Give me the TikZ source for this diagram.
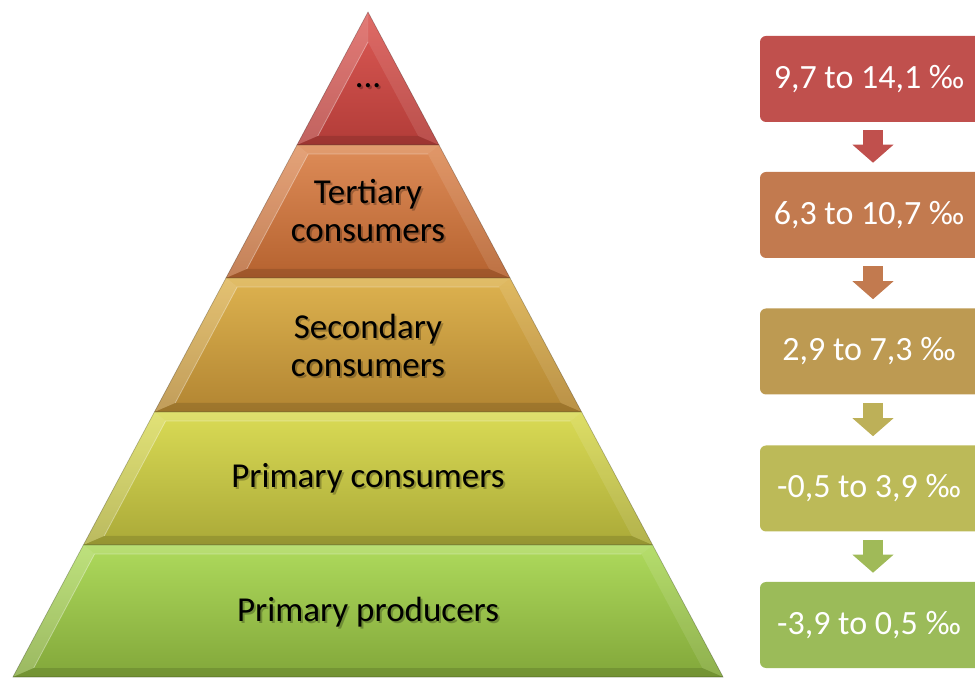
\documentclass[tikz,border=0pt]{standalone}
\usepackage{fontspec}
\setmainfont{Carlito}
\usetikzlibrary{arrows.meta}
\definecolor{rA}{HTML}{DC5A55}\definecolor{rB}{HTML}{B23C38}
\definecolor{oA}{HTML}{DE8C58}\definecolor{oB}{HTML}{B5622F}
\definecolor{gA}{HTML}{DDB24F}\definecolor{gB}{HTML}{B28532}
\definecolor{yA}{HTML}{DADB55}\definecolor{yB}{HTML}{AAA938}
\definecolor{lA}{HTML}{AEDA5C}\definecolor{lB}{HTML}{82A73A}
\definecolor{bx1}{HTML}{C0504D}
\definecolor{bx2}{HTML}{C27A4F}
\definecolor{bx3}{HTML}{BD9A52}
\definecolor{bx4}{HTML}{BCBA58}
\definecolor{bx5}{HTML}{9BBB59}
\definecolor{ar3}{HTML}{BDB058}
\definecolor{ar4}{HTML}{A0BA58}
\newcommand\pyrlevel[4]{%
  \pgfmathsetmacro\kk{0.534}%
  \pgfmathsetmacro\ota{\kk*(#1-12)}%
  \pgfmathsetmacro\oba{\kk*(#2-12)}%
  \pgfmathsetmacro\ity{max(#1+9,42)}%
  \pgfmathsetmacro\ita{\kk*(\ity-12)-16}%
  \pgfmathsetmacro\iby{#2-9}%
  \pgfmathsetmacro\iba{\kk*(\iby-12)-16}%
  \coordinate (TL) at ({368-\ota},#1);
  \coordinate (TR) at ({368+\ota},#1);
  \coordinate (BL) at ({368-\oba},#2);
  \coordinate (BR) at ({368+\oba},#2);
  \coordinate (ITL) at ({368-\ita},\ity);
  \coordinate (ITR) at ({368+\ita},\ity);
  \coordinate (IBL) at ({368-\iba},\iby);
  \coordinate (IBR) at ({368+\iba},\iby);
  \shade[top color=#3,bottom color=#4] (TL)--(TR)--(BR)--(BL)--cycle;
  \fill[white,opacity=.14] (TL)--(TR)--(ITR)--(ITL)--cycle;
  \fill[white,opacity=.20] (TL)--(ITL)--(IBL)--(BL)--cycle;
  \fill[white,opacity=.10] (TR)--(ITR)--(IBR)--(BR)--cycle;
  \fill[black,opacity=.12] (BL)--(IBL)--(IBR)--(BR)--cycle;
  \draw[white,opacity=.35,line width=.6pt] (IBL)--(ITL)--(ITR);
  \draw[black,opacity=.25,line width=.5pt] (TL)--(TR)--(BR)--(BL)--cycle;
}
\newcommand\shtext[3]{%
  \node[lvltext,text=black,opacity=.25] (#1s) at ([xshift=1.5pt,yshift=-1.5pt]#2) {#3};
  \node[lvltext] (#1) at (#2) {#3};
}
\tikzset{
  lvltext/.style={align=center,font=\fontsize{26.25}{28.5}\selectfont,text=black},
  bx/.style={rounded corners=4.5pt,minimum width=169.5pt,minimum height=64.5pt,
    text=white,font=\fontsize{25.5}{30}\selectfont,inner sep=0pt},
  blockarrow/.style={line width=15pt,-{Triangle[width=30pt,length=13.5pt]},
    shorten <=6pt,shorten >=6.75pt}
}
\begin{document}
\begin{tikzpicture}[x=0.75pt,y=-0.75pt]
\useasboundingbox (0,0) rectangle (975,680);
\pyrlevel{12}{145}{rA}{rB}
\pyrlevel{145}{278}{oA}{oB}
\pyrlevel{278}{412}{gA}{gB}
\pyrlevel{412}{545}{yA}{yB}
\pyrlevel{545}{677}{lA}{lB}
\shtext{t1}{368,86}{...}
\shtext{t2}{368,211}{Tertiary\\consumers}
\shtext{t3}{368,345}{Secondary\\consumers}
\shtext{t4}{368,478}{Primary consumers}
\shtext{t5}{368,612}{Primary producers}
\node[bx,fill=bx1] (b1) at (873,79) {};
\node[bx,fill=bx2] (b2) at (873,215) {};
\node[bx,fill=bx3] (b3) at (873,351.5) {};
\node[bx,fill=bx4] (b4) at (873,488.5) {};
\node[bx,fill=bx5] (b5) at (873,625) {};
\node[bx,minimum width=0pt,minimum height=0pt] (v1) at (869,79) {9,7 to 14,1 ‰};
\node[bx,minimum width=0pt,minimum height=0pt] (v2) at (869,215) {6,3 to 10,7 ‰};
\node[bx,minimum width=0pt,minimum height=0pt] (v3) at (869,351.5) {2,9 to 7,3 ‰};
\node[bx,minimum width=0pt,minimum height=0pt] (v4) at (869,488.5) {-0,5 to 3,9 ‰};
\node[bx,minimum width=0pt,minimum height=0pt] (v5) at (869,625) {-3,9 to 0,5 ‰};
\draw[blockarrow,bx1] (b1) -- (b2);
\draw[blockarrow,bx2] (b2) -- (b3);
\draw[blockarrow,ar3] (b3) -- (b4);
\draw[blockarrow,ar4] (b4) -- (b5);
\end{tikzpicture}
\end{document}
